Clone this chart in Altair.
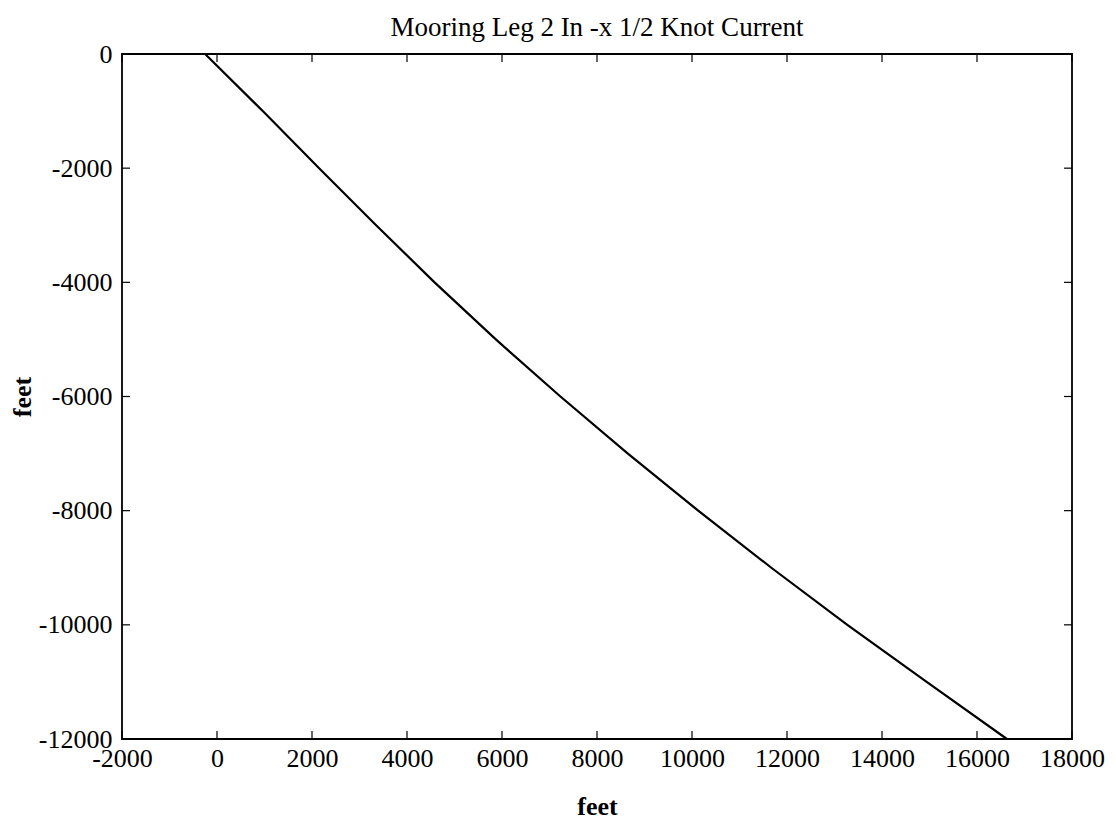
import altair as alt
import pandas as pd

# Mooring leg shape (horizontal distance vs depth)
x_ft = [-250, 1000, 2150, 3350, 4580, 5870, 7230, 8650, 10130, 11670, 13270, 14940, 16630]
depth_ft = [0, -1030, -2000, -3000, -4000, -5000, -6000, -7000, -8000, -9000, -10000, -11000, -12000]

x_ticks = [-2000, 0, 2000, 4000, 6000, 8000, 10000, 12000, 14000, 16000, 18000]
y_ticks = [0, -2000, -4000, -6000, -8000, -10000, -12000]

title_text = "Mooring Leg 2 In -x 1/2 Knot Current"
x_title = "feet"
y_title = "feet"

W, H = 950, 685
FONT = "Liberation Serif"

line_df = pd.DataFrame({"x": x_ft, "y": depth_ft, "i": list(range(len(x_ft)))})
xt_df = pd.DataFrame({"x": x_ticks})
yt_df = pd.DataFrame({"y": y_ticks})

xs = alt.Scale(domain=[-2000, 18000], nice=False, zero=False)
ys = alt.Scale(domain=[-12000, 0], nice=False, zero=False)

LABEL = "'' + datum.value"

xaxis = alt.Axis(values=x_ticks, tickSize=0, domain=False, grid=False, labelFlush=False,
                 labelOverlap=False, labelPadding=6, labelFont=FONT, labelFontSize=26,
                 labelColor="black", title=x_title, titleFont=FONT, titleFontSize=26,
                 titleFontWeight="bold", titleColor="black", titlePadding=22, labelExpr=LABEL)
yaxis = alt.Axis(values=y_ticks, tickSize=0, domain=False, grid=False, labelFlush=False,
                 labelOverlap=False, labelPadding=10, labelFont=FONT, labelFontSize=26,
                 labelColor="black", title=y_title, titleFont=FONT, titleFontSize=26,
                 titleFontWeight="bold", titleColor="black", titlePadding=3, labelExpr=LABEL)

xenc = alt.X("x:Q", scale=xs, axis=xaxis)
yenc = alt.Y("y:Q", scale=ys, axis=yaxis)

line = alt.Chart(line_df).mark_line(color="black", strokeWidth=2.2).encode(
    x=xenc, y=yenc, order="i:Q")

xt_top = alt.Chart(xt_df).mark_rule(color="black", strokeWidth=1.2).encode(
    x=xenc, y=alt.value(0), y2=alt.value(8))
xt_bot = alt.Chart(xt_df).mark_rule(color="black", strokeWidth=1.2).encode(
    x=xenc, y=alt.value(H - 8), y2=alt.value(H))
yt_left = alt.Chart(yt_df).mark_rule(color="black", strokeWidth=1.2).encode(
    y=yenc, x=alt.value(0), x2=alt.value(8))
yt_right = alt.Chart(yt_df).mark_rule(color="black", strokeWidth=1.2).encode(
    y=yenc, x=alt.value(W - 8), x2=alt.value(W))

chart = alt.layer(xt_top, xt_bot, yt_left, yt_right, line).properties(
    width=W, height=H,
    background="white",
    title=alt.TitleParams(title_text, font=FONT, fontSize=27, fontWeight="normal",
                          color="black", anchor="middle", baseline="alphabetic",
                          offset=8, dy=30),
    autosize=alt.AutoSizeParams(type="none"),
    padding={"left": 114, "top": 46, "right": 36, "bottom": 85},
).configure_view(stroke="black", strokeWidth=1.8)

chart.save("out.html", embed_options={"renderer": "svg", "actions": False})
